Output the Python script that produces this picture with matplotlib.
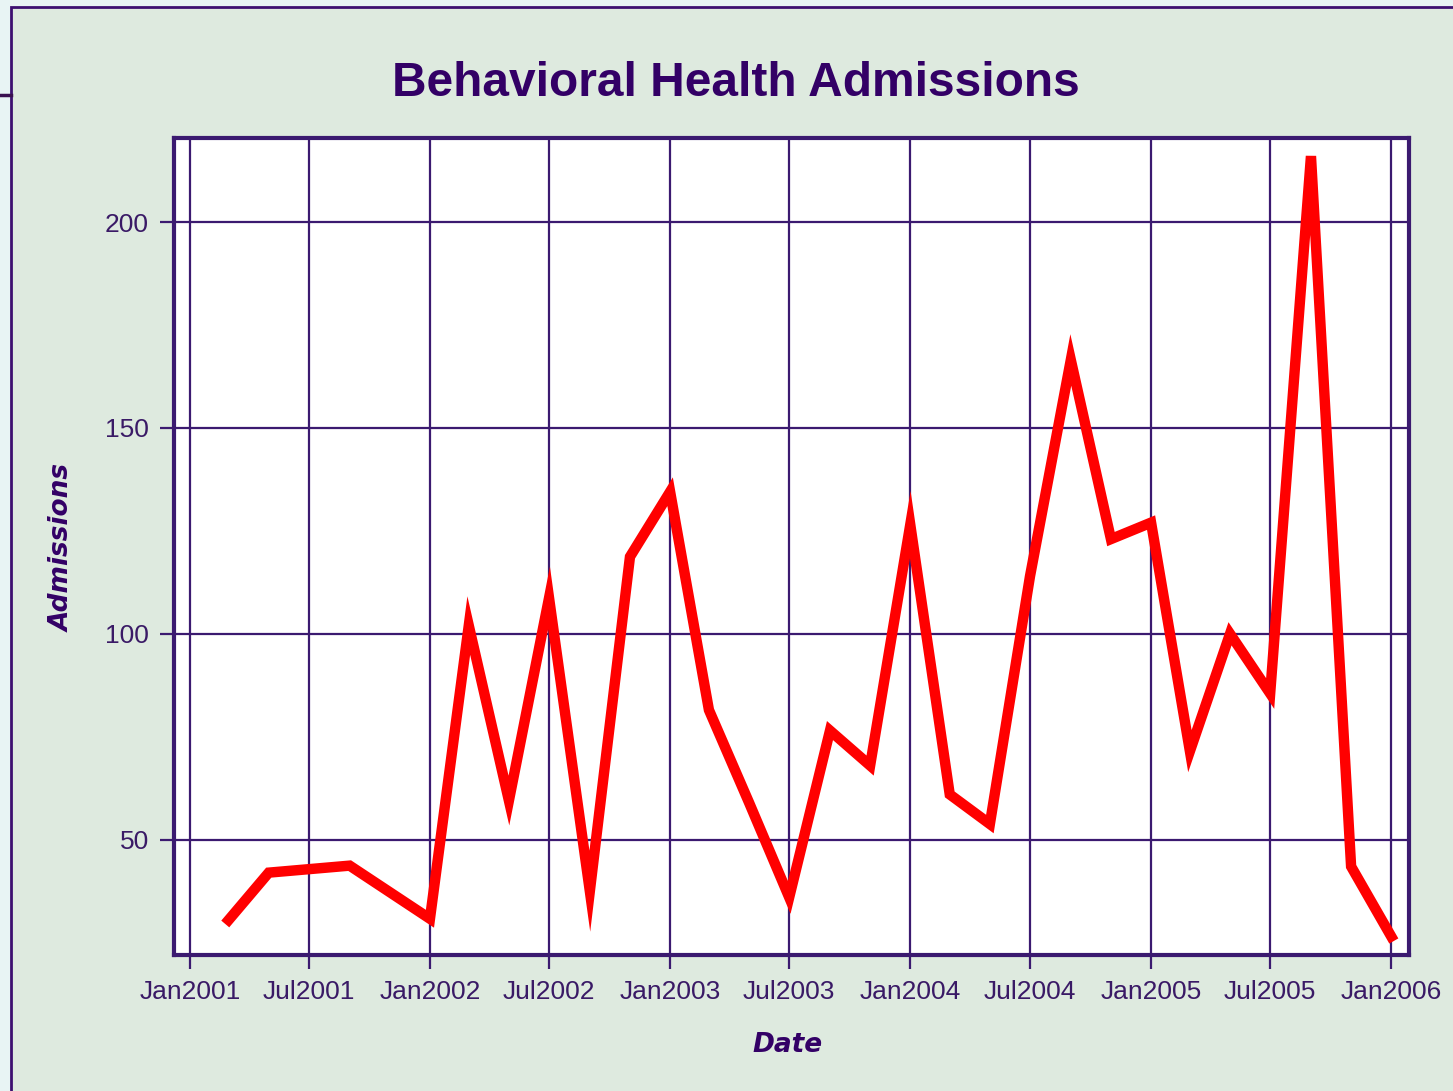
import datetime as dt
import matplotlib
matplotlib.use("Agg")
import matplotlib.pyplot as plt
from matplotlib.patches import Rectangle
from matplotlib.lines import Line2D

# data
dates = ["2001-03", "2001-05", "2001-09", "2002-01", "2002-03", "2002-05",
         "2002-07", "2002-09", "2002-11", "2003-01", "2003-03", "2003-05",
         "2003-07", "2003-09", "2003-11", "2004-01", "2004-03", "2004-05",
         "2004-07", "2004-09", "2004-11", "2005-01", "2005-03", "2005-05",
         "2005-07", "2005-09", "2005-11", "2006-01"]
admissions = [30.5, 42, 43.7, 30.8, 102, 59.5,
              108.7, 37.5, 118.7, 134.5, 81.5, 59,
              36, 76.5, 68, 126.5, 61, 53.8,
              114, 166.5, 123, 127, 71.5, 100,
              85.5, 216, 43.5, 26.5]
tick_dates = ["2001-01", "2001-07", "2002-01", "2002-07", "2003-01", "2003-07",
              "2004-01", "2004-07", "2005-01", "2005-07", "2006-01"]
y_ticks = [50, 100, 150, 200]

x = [dt.datetime.strptime(d, "%Y-%m") for d in dates]
xt = [dt.datetime.strptime(d, "%Y-%m") for d in tick_dates]

purple = "#330066"
gridc = "#3b1a70"
narrow = ["Liberation Sans Narrow", "Liberation Sans", "DejaVu Sans"]

fig = plt.figure(figsize=(14.53, 10.91), dpi=100)
fig.patch.set_facecolor("#e8f4f4")

# panel behind the chart
fig.add_artist(Rectangle((11 / 1453, -0.1), 1.2, 1.1 - 7 / 1091,
                         transform=fig.transFigure, facecolor="#deeadf",
                         edgecolor="#3d1070", lw=2, zorder=0))
fig.add_artist(Line2D([0, 11 / 1453], [1 - 95 / 1091] * 2,
                      transform=fig.transFigure, color="#3a1050", lw=2.5))

ax = fig.add_axes([174 / 1453, 1 - 955 / 1091, 1235 / 1453, 817 / 1091])
ax.set_facecolor("white")

ax.plot(x, admissions, color="#ff0000", lw=7.5, solid_joinstyle="miter",
        zorder=3)

ax.set_xlim(xt[0] - dt.timedelta(days=24), xt[-1] + dt.timedelta(days=27))
ax.set_ylim(22, 220.4)
ax.set_xticks(xt)
ax.set_xticklabels([d.strftime("%b%Y") for d in xt])
ax.set_yticks(y_ticks)

ax.grid(True, color=gridc, lw=1.6)
ax.set_axisbelow(True)
for s in ax.spines.values():
    s.set_color(gridc)
    s.set_linewidth(3)

ax.tick_params(direction="out", length=10, width=1.6, color=gridc,
               labelcolor="#3a1a66", pad=8)
for lbl in ax.get_xticklabels() + ax.get_yticklabels():
    lbl.set_family(narrow)
    lbl.set_fontsize(19)

fig.text(0.5065, 1 - 84 / 1091, "Behavioral Health Admissions", ha="center",
         va="center", color=purple, fontsize=34.5, fontweight="bold",
         family=narrow)
fig.text(788 / 1453, 1 - 1045 / 1091, "Date", ha="center", va="center",
         color=purple, fontsize=19, fontweight="bold", style="italic",
         family=["DejaVu Sans"])
fig.text(63 / 1453, 1 - 548 / 1091, "Admissions", ha="center", va="center",
         rotation=90, color=purple, fontsize=19, fontweight="bold",
         style="italic", family=["DejaVu Sans"])

fig.savefig("out.png", dpi=100)
